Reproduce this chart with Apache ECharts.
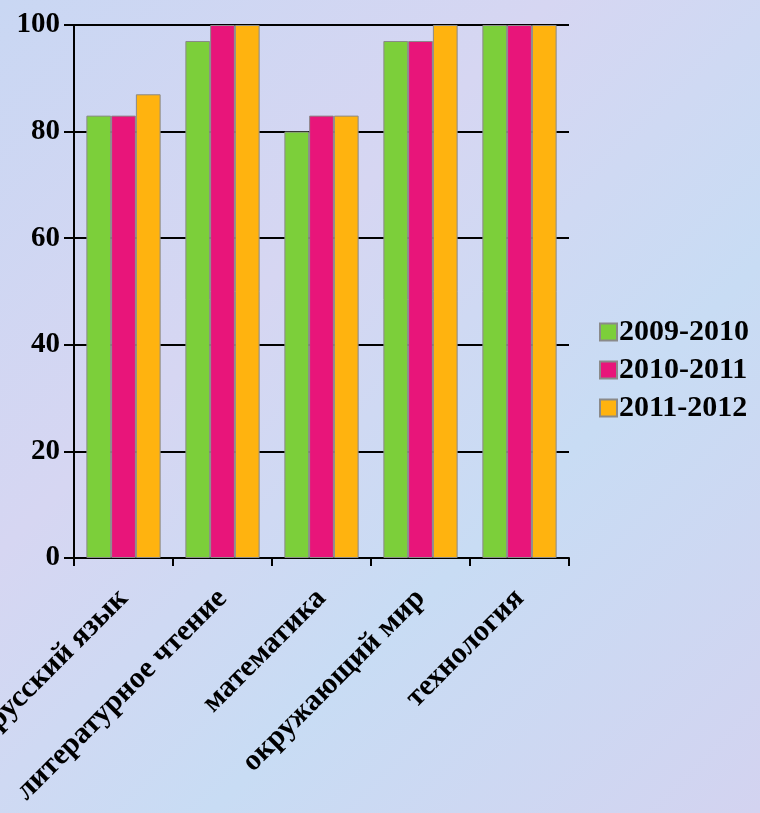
<!DOCTYPE html>
<html><head><meta charset="utf-8">
<script src="https://cdn.jsdelivr.net/npm/echarts@6/dist/echarts.min.js"></script>
<style>html,body{margin:0;padding:0;}#c{width:760px;height:813px;background:linear-gradient(135deg,#c9d7f3 0%,#d6d6f2 35%,#c8dcf4 65%,#d3d3f0 100%);}</style>
</head><body><div id="c"></div>
<script>
const categories = ['русский язык','литературное чтение','математика','окружающий мир','технология'];
const seriesNames = ['2009-2010','2010-2011','2011-2012'];
const s2009 = [83, 97, 80, 97, 100];
const s2010 = [83, 100, 83, 97, 100];
const s2011 = [87, 100, 83, 100, 100];
const colors = ['#7ccf3a','#e8157a','#ffb30f'];
const font = 'Liberation Serif';
const chart = echarts.init(document.getElementById('c'));
chart.setOption({
  backgroundColor: 'transparent',
  animation: false,
  grid: {left: 74, top: 25, width: 495, height: 533, containLabel: false, outerBoundsMode: 'none'},
  legend: {
    orient: 'vertical', left: 594, top: 312,
    itemWidth: 17, itemHeight: 17, itemGap: 8,
    icon: 'rect',
    textStyle: {fontFamily: font, fontWeight: 'bold', fontSize: 30, color: '#000', padding: [0,0,0,-3]},
    data: seriesNames
  },
  xAxis: {
    type: 'category', data: categories,
    axisLine: {lineStyle: {color: '#000', width: 2}},
    axisTick: {show: true, length: 8, lineStyle: {color: '#000', width: 2}},
    axisLabel: {rotate: 45, margin: 36, fontFamily: font, fontWeight: 'bold', fontSize: 30, color: '#000', interval: 0}
  },
  yAxis: {
    type: 'value', min: 0, max: 100, interval: 20,
    axisLine: {show: true, lineStyle: {color: '#000', width: 2}},
    axisTick: {show: true, length: 10, lineStyle: {color: '#000', width: 2}},
    splitLine: {lineStyle: {color: '#000', width: 2}},
    axisLabel: {margin: 14, fontFamily: font, fontWeight: 'bold', fontSize: 29, color: '#000'}
  },
  series: [s2009, s2010, s2011].map((d, i) => ({
    name: seriesNames[i], type: 'bar', data: d,
    barGap: '0%', barCategoryGap: '25%',
    itemStyle: {color: colors[i], borderColor: '#8a8a8a', borderWidth: 1}
  }))
});
</script></body></html>
